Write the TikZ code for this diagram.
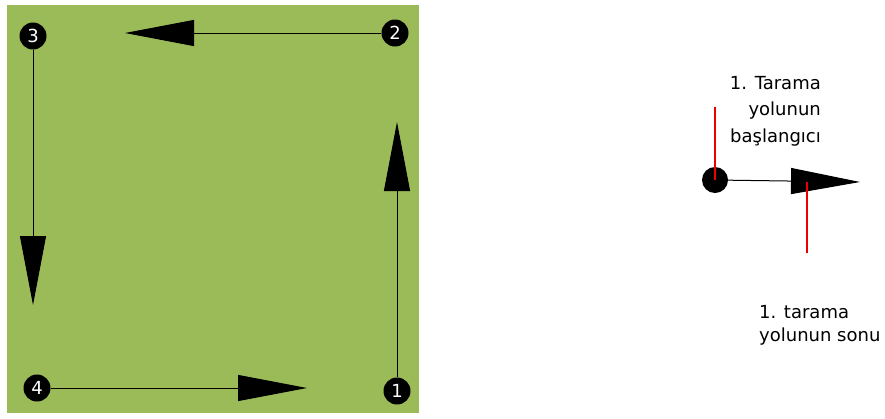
\documentclass[tikz,border=0pt]{standalone}
\usepackage{fontspec}
\setmainfont{DejaVu Sans}
\usepackage{tikz}
\usetikzlibrary{
  arrows.meta,
  positioning,
  calc
}
\definecolor{fieldgreen}{RGB}{155,187,89}
\definecolor{pointerred}{RGB}{235,0,0}
\tikzset{
  field/.style={fill=fieldgreen, draw=none},
  waypt/.style={
    circle, fill=black, draw=none, minimum size=27pt, inner sep=0pt,
    text=white, font=\fontsize{18}{18}\selectfont
  },
  path/.style={-{Triangle[length=69pt,width=26pt]}, line width=1pt, black},
  pointer/.style={line width=1.1pt, pointerred},
  note/.style={inner sep=0pt, font=\fontsize{18}{26.5}\selectfont}
}
\begin{document}
\begin{tikzpicture}[x=1pt,y=-1pt]
\useasboundingbox (0,0) rectangle (885,418);
\fill[field] (7,5) rectangle (419,413);

\node[waypt] (p1) at (397,391) {1};
\node[waypt] (p2) at (395,33)  {2};
\node[waypt] (p3) at (33,36)   {3};
\node[waypt] (p4) at (37,388)  {4};
\coordinate (t1) at (397,122);
\coordinate (t2) at (125,33);
\coordinate (t3) at (33,305);
\coordinate (t4) at (307,388);

\draw[path] (p1) -- (t1);
\draw[path] (p2) -- (t2);
\draw[path] (p3) -- (t3);
\draw[path] (p4) -- (t4);

\node[waypt, minimum size=26pt] (start) at (715,180) {};
\coordinate (end) at (860,182);
\draw[path] (start) -- (end);

\node[note, anchor=north east, align=right] (startnote) at (821,76)
  {1. Tarama\\yolunun\\başlangıcı};
\node[note, anchor=north west, align=left, font=\fontsize{18}{23}\selectfont]
  (endnote) at (759,305) {1. tarama\\yolunun sonu};

\coordinate (s1) at (715,107);
\coordinate (s2) at (807,182);
\coordinate (s3) at (807,253);
\draw[pointer] (s1) -- (start.center);
\draw[pointer] (s2) -- (s3);
\end{tikzpicture}
\end{document}
